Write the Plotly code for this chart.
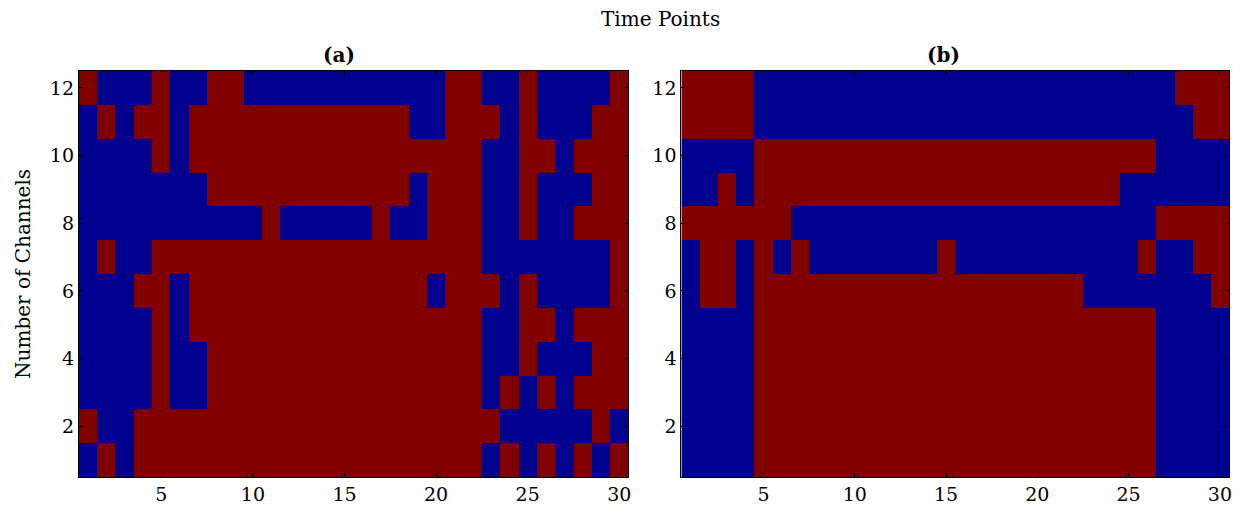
import plotly.graph_objects as go

# x: time points, y: channel number
time_points = list(range(1, 31))
channels = list(range(1, 13))
x_ticks = [5, 10, 15, 20, 25, 30]
y_ticks = [2, 4, 6, 8, 10, 12]

# 1 = red state, 0 = blue state; rows listed from channel 1 (bottom) to 12 (top)
panel_a = [
    "010111111111111111111101010101",  # 1
    "100111111111111111111110000010",  # 2
    "000010011111111111111101010111",  # 3
    "000010011111111111111100100011",  # 4
    "000010111111111111111100110111",  # 5
    "000110111111111111101110100001",  # 6
    "010011111111111111111100000001",  # 7
    "000000000010000010011100100111",  # 8
    "000000011111111111011100100011",  # 9
    "000010111111111111111100110111",  # 10
    "010110111111111111001110100011",  # 11
    "100010011000000000001100100001",  # 12
]
panel_b = [
    "000011111111111111111111110000",  # 1
    "000011111111111111111111110000",  # 2
    "000011111111111111111111110000",  # 3
    "000011111111111111111111110000",  # 4
    "000011111111111111111111110000",  # 5
    "011011111111111111111100000001",  # 6
    "011010100000001000000000010011",  # 7
    "111111000000000000000000001111",  # 8
    "001011111111111111111111000000",  # 9
    "000011111111111111111111110000",  # 10
    "111100000000000000000000000011",  # 11
    "111100000000000000000000000111",  # 12
]
panel_titles = ["<b>(a)</b>", "<b>(b)</b>"]
x_title = "Time Points"
y_title = "Number of Channels"

BLUE = "#00008f"
RED = "#800000"
W, H = 1244, 514
OFF = 8  # default page body margin
FW, FH = W - OFF, H - OFF
FONT = "DejaVu Serif"

def to_z(rows):
    return [[int(ch) for ch in r] for r in rows]

def px_x(p):
    return (p - OFF) / FW

def px_y(p):
    return 1 - (p - OFF) / FH

fig = go.Figure()
for i, rows in enumerate([panel_a, panel_b]):
    fig.add_trace(go.Heatmap(
        z=to_z(rows), x=time_points, y=channels,
        colorscale=[[0, BLUE], [0.5, BLUE], [0.5, RED], [1, RED]],
        zmin=0, zmax=1, showscale=False,
        xaxis="x" if i == 0 else "x2", yaxis="y" if i == 0 else "y2",
        hoverinfo="skip",
    ))

axis_common = dict(
    showline=True, linecolor="black", linewidth=1, mirror="ticks",
    ticks="inside", ticklen=4, tickcolor="black", tickwidth=1,
    showgrid=False, zeroline=False,
    tickfont=dict(family=FONT, size=19, color="black"),
)
ydom = [px_y(477), px_y(71)]
fig.update_layout(
    width=FW, height=FH,
    margin=dict(l=0, r=0, t=0, b=0),
    paper_bgcolor="white", plot_bgcolor="white",
    xaxis=dict(domain=[px_x(79), px_x(630)], range=[0.5, 30.5], tickvals=x_ticks,
               anchor="y", **axis_common),
    yaxis=dict(domain=ydom, range=[0.5, 12.5], tickvals=y_ticks,
               anchor="x", **axis_common),
    xaxis2=dict(domain=[px_x(683), px_x(1232)], range=[0.5, 30.5], tickvals=x_ticks,
                anchor="y2", **axis_common),
    yaxis2=dict(domain=ydom, range=[0.5, 12.5], tickvals=y_ticks,
                anchor="x2", **axis_common),
    showlegend=False,
)

fig.add_annotation(text=panel_titles[0], x=px_x(340), y=px_y(55), xref="paper", yref="paper",
                   showarrow=False, font=dict(family=FONT, size=20, color="black"),
                   xanchor="center", yanchor="middle")
fig.add_annotation(text=panel_titles[1], x=px_x(946), y=px_y(55), xref="paper", yref="paper",
                   showarrow=False, font=dict(family=FONT, size=20, color="black"),
                   xanchor="center", yanchor="middle")
fig.add_annotation(text=x_title, x=px_x(662), y=px_y(19), xref="paper", yref="paper",
                   showarrow=False, font=dict(family=FONT, size=20, color="black"),
                   xanchor="center", yanchor="middle")
fig.add_annotation(text=y_title, x=px_x(23), y=px_y(274), xref="paper", yref="paper",
                   showarrow=False, textangle=-90, font=dict(family=FONT, size=20, color="black"),
                   xanchor="center", yanchor="middle")

fig.write_html("out.html")
